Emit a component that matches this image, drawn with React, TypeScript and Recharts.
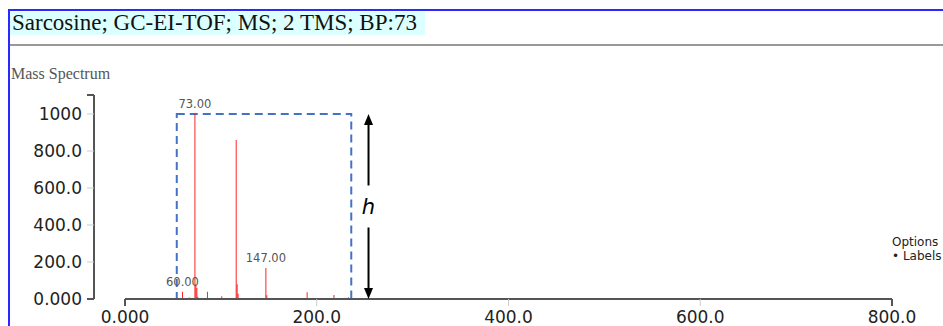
import React from "react";
import {
  ComposedChart,
  Bar,
  XAxis,
  YAxis,
  LabelList,
  ReferenceArea,
  ReferenceLine,
} from "recharts";

// peaks (m/z, relative intensity)
const mzValues = [60, 67, 73, 74, 75, 76, 86, 101, 116, 117, 118, 130, 147, 148, 190, 218, 233];
const intensities = [39, 8, 1000, 80, 60, 12, 39, 15, 860, 80, 28, 6, 168, 20, 36, 22, 9];
const labelledPeaks = ["60.00", "", "73.00", "", "", "", "", "", "", "", "", "", "147.00", "", "", "", ""];

const xTicks = [0, 200, 400, 600, 800];
const yTop = 1102.7;
const yTicks = [0, 200, 400, 600, 800, 1000, yTop];

// h-box annotation
const boxFrom = 54;
const boxTo = 236;
const boxHeight = 1000;
const arrowAt = 254;

const TS = 7;
const TM = 5;
const AXIS = "#555";
const FONT = "DejaVu Sans, Verdana, sans-serif";

const data = mzValues.map((mz, i) => ({
  mz,
  intensity: intensities[i],
  label: labelledPeaks[i] || undefined,
}));

function fmt(v: number) {
  return v.toPrecision(4);
}

function XTick(props: any) {
  const { x, y, payload } = props;
  const v = payload.value;
  const outer = v === xTicks[0] || v === xTicks[xTicks.length - 1];
  const axisY = y - TS - TM;
  return (
    <g>
      {outer ? <line x1={x} x2={x} y1={axisY} y2={axisY + TS} stroke={AXIS} strokeWidth={2} /> : null}
      <text x={x} y={y} dy="0.71em" textAnchor="middle" fill="#222" fontSize={17} fontFamily={FONT}>
        {fmt(v)}
      </text>
    </g>
  );
}

function YTick(props: any) {
  const { x, y, payload } = props;
  const v = payload.value;
  const axisX = x + TM + TS;
  if (v === yTop) {
    return <line x1={axisX - TS} x2={axisX} y1={y} y2={y} stroke={AXIS} strokeWidth={2} />;
  }
  return (
    <g>
      {v === 0 ? <line x1={axisX - TS} x2={axisX} y1={y} y2={y} stroke={AXIS} strokeWidth={2} /> : null}
      <text x={x} y={y} dy="0.355em" textAnchor="end" fill="#222" fontSize={17} fontFamily={FONT}>
        {fmt(v)}
      </text>
    </g>
  );
}

function HeightArrow(props: any) {
  const { x1, y1, y2 } = props;
  const top = Math.min(y1, y2);
  const bottom = Math.max(y1, y2);
  const mid = (top + bottom) / 2;
  const gap = 21;
  return (
    <g>
      <line x1={x1} x2={x1} y1={top + 8} y2={mid - gap} stroke="#000" strokeWidth={2} />
      <line x1={x1} x2={x1} y1={mid + gap} y2={bottom - 8} stroke="#000" strokeWidth={2} />
      <polygon points={`${x1},${top} ${x1 - 4.5},${top + 11} ${x1 + 4.5},${top + 11}`} fill="#000" />
      <polygon points={`${x1},${bottom} ${x1 - 4.5},${bottom - 11} ${x1 + 4.5},${bottom - 11}`} fill="#000" />
      <text x={x1} y={mid} dy="0.355em" textAnchor="middle" fontSize={21} fontStyle="italic" fontFamily={FONT}>
        h
      </text>
    </g>
  );
}

export default function App() {
  return (
    <div
      style={{
        position: "absolute",
        left: 0,
        top: 0,
        width: 943,
        height: 326,
        overflow: "hidden",
        background: "#fff",
        fontFamily: "'Liberation Serif', 'Times New Roman', serif",
      }}
    >
      <div
        style={{
          position: "absolute",
          left: 8,
          top: 9,
          width: 960,
          height: 340,
          borderLeft: "2px solid #2828ff",
          borderTop: "2px solid #2828ff",
        }}
      />
      <div
        style={{
          position: "absolute",
          left: 10,
          top: 12,
          width: 415,
          height: 23,
          background: "#dcffff",
        }}
      />
      <div
        style={{
          position: "absolute",
          left: 12,
          top: 11,
          fontSize: 23,
          lineHeight: "23px",
          color: "#111",
          whiteSpace: "nowrap",
        }}
      >
        Sarcosine; GC-EI-TOF; MS; 2 TMS; BP:73
      </div>
      <div style={{ position: "absolute", left: 10, top: 44, width: 940, height: 2, background: "#999" }} />
      <div
        style={{
          position: "absolute",
          left: 11,
          top: 65.5,
          fontSize: 16,
          lineHeight: "16px",
          color: "#555",
          whiteSpace: "nowrap",
        }}
      >
        Mass Spectrum
      </div>
      <div
        style={{
          position: "absolute",
          left: 892,
          top: 236,
          fontSize: 12,
          lineHeight: "13.5px",
          color: "#222",
          fontFamily: FONT,
          whiteSpace: "nowrap",
        }}
      >
        <div>Options</div>
        <div>
          <span style={{ fontSize: 12 }}>{"\u2022"}</span> Labels
        </div>
      </div>

      <div style={{ position: "absolute", left: 0, top: 0 }}>
        <ComposedChart width={943} height={326} data={data} margin={{ top: 95, right: 51, bottom: 0, left: 14 }}>
          <XAxis
            type="number"
            dataKey="mz"
            domain={[-32.33, 800]}
            allowDataOverflow
            ticks={xTicks}
            interval={0}
            height={27}
            axisLine={false}
            tickLine={{ stroke: "#ccc" }}
            tickSize={TS}
            tickMargin={TM}
            tick={<XTick />}
          />
          <YAxis
            type="number"
            domain={[0, yTop]}
            allowDataOverflow
            ticks={yTicks}
            interval={0}
            width={80}
            axisLine={{ stroke: AXIS, strokeWidth: 2 }}
            tickLine={{ stroke: "#ccc" }}
            tickSize={TS}
            tickMargin={TM}
            tick={<YTick />}
          />
          <ReferenceLine
            segment={[
              { x: xTicks[0], y: 0 },
              { x: xTicks[xTicks.length - 1], y: 0 },
            ]}
            stroke={AXIS}
            strokeWidth={2}
          />
          <Bar dataKey="intensity" fill="#ff0000" barSize={2} isAnimationActive={false}>
            <LabelList dataKey="label" position="top" offset={6} fill="#555" fontSize={11.5} fontFamily={FONT} />
          </Bar>
          <ReferenceArea
            x1={boxFrom}
            x2={boxTo}
            y1={0}
            y2={boxHeight}
            fill="none"
            fillOpacity={0}
            stroke="#4472c4"
            strokeWidth={2}
            strokeDasharray="8 5"
          />
          <ReferenceLine
            segment={[
              { x: arrowAt, y: 0 },
              { x: arrowAt, y: boxHeight },
            ]}
            shape={(p: any) => <HeightArrow {...p} />}
          />
        </ComposedChart>
      </div>
    </div>
  );
}
